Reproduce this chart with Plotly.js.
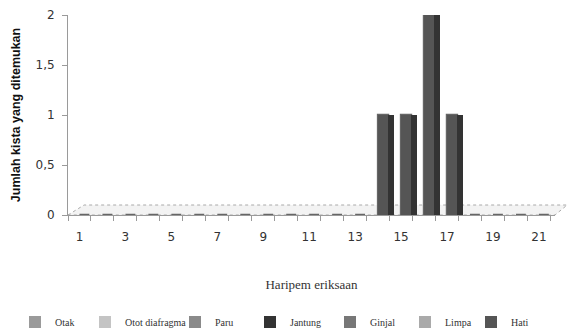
<!DOCTYPE html>
<html>
<head>
<meta charset="utf-8">
<script src="https://cdn.plot.ly/plotly-3.0.1.min.js"></script>
<style>html,body{margin:0;padding:0;background:#fff;}#chart{width:569px;height:336px;}</style>
</head>
<body>
<div id="chart"></div>
<script>
// Data
const days = ['1','2','3','4','5','6','7','8','9','10','11','12','13','14','15','16','17','18','19','20','21'];
const dayLabels = ['1','','3','','5','','7','','9','','11','','13','','15','','17','','19','','21'];
const seriesNames = ['Otak','Otot diafragma','Paru','Jantung','Ginjal','Limpa','Hati'];
const otak     = [0,0,0,0,0,0,0,0,0,0,0,0,0,0,0,0,0,0,0,0,0];
const otot     = [0,0,0,0,0,0,0,0,0,0,0,0,0,0,0,0,0,0,0,0,0];
const paru     = [0,0,0,0,0,0,0,0,0,0,0,0,0,0,0,0,0,0,0,0,0];
const jantung  = [0,0,0,0,0,0,0,0,0,0,0,0,0,0,0,0,0,0,0,0,0];
const ginjal   = [0,0,0,0,0,0,0,0,0,0,0,0,0,0,0,0,0,0,0,0,0];
const limpa    = [0,0,0,0,0,0,0,0,0,0,0,0,0,0,0,0,0,0,0,0,0];
const hati     = [0,0,0,0,0,0,0,0,0,0,0,0,0,1,1,2,1,0,0,0,0];
const yTicks = [0,0.5,1,1.5,2];
const yTickText = ['0','0,5','1','1,5','2'];

const colors = ['#9a9a9a','#c4c4c4','#8a8a8a','#333333','#777777','#aaaaaa','#4a4a4a'];
const allSeries = [otak, otot, paru, jantung, ginjal, limpa, hati];
// left edge (px) of each legend entry
const legendLeft = [15, 85, 175, 250, 330, 405, 471];

const legendFont = {family: 'Liberation Serif, serif', size: 10, color: '#333'};
const traces = [];
// outlined copy of the Hati bars (gives the flat slabs at zero)
traces.push({
  type: 'bar', x: days, y: hati, name: 'Hati', showlegend: false,
  marker: {color: '#555555', line: {width: 2.5, color: '#666666'}},
  width: 0.43, offset: 0, hoverinfo: 'skip'
});
allSeries.forEach((vals, i) => {
  const isHati = i === 6;
  traces.push({
    type: 'bar', x: days, y: vals, name: seriesNames[i],
    legend: i === 0 ? 'legend' : 'legend' + (i + 1),
    marker: {color: isHati ? '#555555' : colors[i], line: {width: 0}},
    width: 0.43, offset: 0,
    hoverinfo: 'x+y+name'
  });
});
// side face of the Hati bars (3D look)
traces.push({
  type: 'bar', x: days, y: hati, name: 'Hati', showlegend: false,
  marker: {color: '#333333', line: {width: 0}},
  width: 0.25, offset: 0.45, hoverinfo: 'skip'
});

const layout = {
  width: 569, height: 336,
  margin: {l: 68, r: 14, t: 15, b: 121},
  paper_bgcolor: '#ffffff', plot_bgcolor: 'rgba(0,0,0,0)',
  barmode: 'overlay',
  bargap: 0,
  showlegend: true,
  xaxis: {
    type: 'category', tickson: 'boundaries',
    tickvals: days, ticktext: dayLabels, tickangle: 0,
    showline: true, linecolor: '#9a9a9a', linewidth: 1,
    ticks: 'outside', ticklen: 5, tickcolor: '#9a9a9a',
    showgrid: false, zeroline: false,
    ticklabelstandoff: 11,
    tickfont: {family: 'DejaVu Sans, sans-serif', size: 12, color: '#333'},
    title: {text: 'Haripem eriksaan', font: {family: 'Liberation Serif, serif', size: 13, color: '#333'}, standoff: 36}
  },
  yaxis: {
    range: [0, 2], tickvals: yTicks, ticktext: yTickText,
    showline: true, linecolor: '#9a9a9a', linewidth: 1,
    ticks: 'outside', ticklen: 5, tickcolor: '#9a9a9a',
    showgrid: false, zeroline: false,
    ticklabelstandoff: 5,
    tickfont: {family: 'DejaVu Sans, sans-serif', size: 12, color: '#333'},
    title: {text: 'Jumlah kista yang ditemukan', font: {family: 'Liberation Sans, Arial, sans-serif', size: 12.5, color: '#111', weight: 'bold'}, standoff: 12}
  },
  shapes: [
    {type: 'path', xref: 'paper', yref: 'paper', layer: 'below',
     path: 'M 0 0 L 0.033 0.05 L 1.025 0.05 L 1.0 0 Z',
     fillcolor: 'rgba(235,235,235,0.6)', line: {color: '#aaaaaa', width: 1, dash: 'dot'}}
  ]
};
seriesNames.forEach((n, i) => {
  const key = i === 0 ? 'legend' : 'legend' + (i + 1);
  layout[key] = {
    orientation: 'h', xref: 'container', x: legendLeft[i] / 569, xanchor: 'left',
    yref: 'container', y: 1 - 322 / 336, yanchor: 'middle',
    font: legendFont, itemwidth: 30, bgcolor: 'rgba(0,0,0,0)', borderwidth: 0
  };
});

Plotly.newPlot('chart', traces, layout, {displayModeBar: false, staticPlot: true});
</script>
</body>
</html>
